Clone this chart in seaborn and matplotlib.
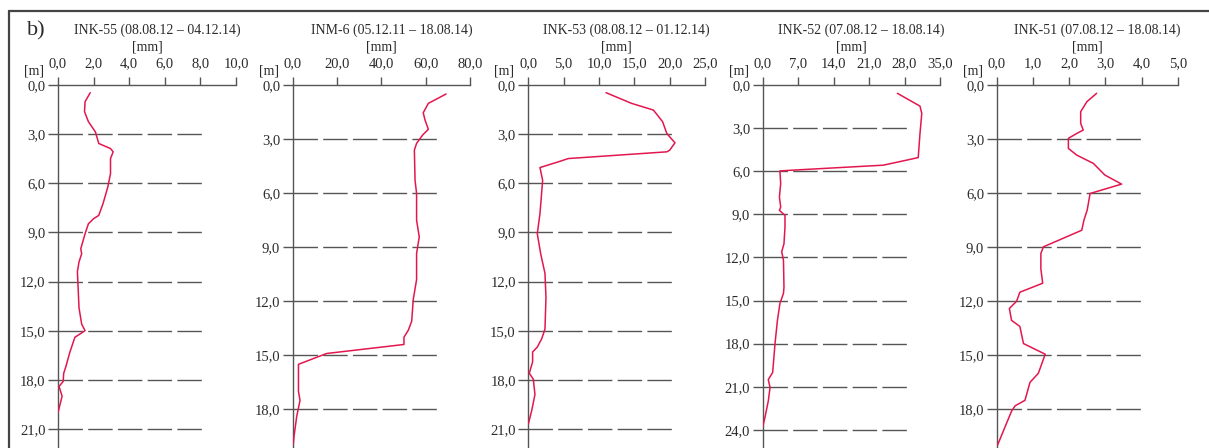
import numpy as np
import pandas as pd
import matplotlib
matplotlib.use("Agg")
import matplotlib.pyplot as plt
from matplotlib.ticker import FuncFormatter, FixedLocator
from matplotlib.lines import Line2D
import seaborn as sns

sns.set_style("white")
plt.rcParams['font.family'] = ['Liberation Serif', 'DejaVu Serif']

# ---------------- data ----------------
titles = ["INK-55 (08.08.12 – 04.12.14)", "INM-6 (05.12.11 – 18.08.14)",
          "INK-53 (08.08.12 – 01.12.14)", "INK-52 (07.08.12 – 18.08.14)",
          "INK-51 (07.08.12 – 18.08.14)"]

x_max = [10, 80, 25, 35, 5]
x_ticks = [[0, 2, 4, 6, 8, 10], [0, 20, 40, 60, 80], [0, 5, 10, 15, 20, 25],
           [0, 7, 14, 21, 28, 35], [0, 1, 2, 3, 4, 5]]
y_ticks = [[0, 3, 6, 9, 12, 15, 18, 21], [0, 3, 6, 9, 12, 15, 18],
           [0, 3, 6, 9, 12, 15, 18, 21], [0, 3, 6, 9, 12, 15, 18, 21, 24],
           [0, 3, 6, 9, 12, 15, 18]]

ink55_depth = [0.47, 1.02, 1.63, 2.24, 2.86, 3.57, 3.88, 4.08, 4.49, 5.41, 6.22, 7.24, 7.96, 8.16,
               8.47, 9.08, 10.0, 10.3, 10.8, 11.4, 13.6, 14.6, 15.0, 15.4, 16.3, 17.2, 17.6, 18.1,
               18.4, 19.0, 20.0]
ink55_mm = [1.81, 1.52, 1.49, 1.71, 2.10, 2.29, 2.95, 3.10, 2.95, 2.95, 2.80, 2.53, 2.29, 2.00,
            1.71, 1.52, 1.28, 1.33, 1.18, 1.09, 1.18, 1.33, 1.52, 0.95, 0.67, 0.44, 0.32, 0.29,
            0.06, 0.23, 0.0]

inm6_depth = [0.5, 1.02, 1.54, 1.94, 2.46, 2.78, 3.24, 3.61, 5.28, 6.02, 7.5, 8.43, 9.35, 10.8,
              11.9, 13.1, 13.6, 14.0, 14.4, 14.9, 15.5, 17.0, 17.5, 18.4, 19.5, 19.9]
inm6_mm = [69.2, 61.2, 58.9, 59.7, 61.2, 58.6, 55.9, 54.9, 55.2, 55.9, 55.9, 57.1, 55.9, 55.9,
           54.4, 53.7, 52.2, 50.2, 50.2, 15.3, 2.6, 2.6, 3.3, 1.8, 0.6, 0.3]

ink53_depth = [0.47, 1.12, 1.53, 2.24, 2.96, 3.16, 3.53, 3.98, 4.08, 4.49, 4.69, 5.04, 5.82, 7.86,
               9.08, 10.3, 11.5, 12.96, 14.9, 15.5, 16.0, 16.3, 16.9, 17.6, 17.96, 18.9, 19.9, 20.7]
ink53_mm = [11.0, 14.6, 17.7, 19.0, 19.6, 20.0, 20.75, 20.0, 19.6, 5.66, 4.25, 1.65, 2.03, 1.65,
            1.27, 1.75, 2.36, 2.5, 2.36, 1.89, 1.27, 0.61, 0.61, 0.14, 0.71, 0.94, 0.47, 0.0]

ink52_depth = [0.58, 1.47, 1.98, 3.37, 5.05, 5.23, 5.58, 5.93, 5.98, 6.86, 7.79, 8.49, 8.72, 9.07,
               9.88, 11.05, 11.6, 12.2, 14.07, 14.5, 15.2, 16.4, 18.0, 20.0, 20.5, 21.05, 22.0,
               23.1, 23.8]
ink52_mm = [26.6, 31.05, 31.4, 31.05, 30.7, 28.4, 23.8, 5.7, 3.4, 3.55, 3.3, 3.55, 3.3, 4.4,
            4.4, 4.2, 3.75, 4.1, 4.2, 4.1, 3.4, 2.9, 2.43, 1.97, 1.1, 1.45, 1.1, 0.46, 0.0]

ink51_depth = [0.46, 0.93, 1.48, 2.13, 2.5, 2.69, 2.96, 3.52, 3.89, 4.35, 5.0, 5.5, 6.02, 6.94,
               7.5, 8.06, 8.98, 9.35, 10.2, 11.0, 11.5, 12.0, 12.4, 13.06, 13.4, 14.35, 14.94,
               16.0, 16.5, 17.5, 17.8, 18.1, 20.0]
ink51_mm = [2.76, 2.49, 2.32, 2.32, 2.39, 2.21, 1.98, 1.98, 2.21, 2.67, 2.99, 3.45, 2.58, 2.5,
            2.41, 2.35, 1.29, 1.22, 1.22, 1.27, 0.64, 0.55, 0.35, 0.41, 0.64, 0.74, 1.34,
            1.15, 0.92, 0.78, 0.51, 0.41, 0.02]

series = [(ink55_mm, ink55_depth), (inm6_mm, inm6_depth), (ink53_mm, ink53_depth),
          (ink52_mm, ink52_depth), (ink51_mm, ink51_depth)]

# ---------------- layout (pixels) ----------------
W, H = 1209, 448
ax_left = [58, 292.7, 528.3, 762.7, 996.7]
ax_width = [178, 177.3, 176.7, 177.3, 181]
ax_top = 85
px_per_m = [16.38, 18.02, 16.38, 14.37, 18.02]

line_color = "#e3174f"
grid_color = "#555555"
text_color = "#2b2b2b"

fig = plt.figure(figsize=(W / 100, H / 100), dpi=100)

fmt = FuncFormatter(lambda v, p: f"{v:.1f}".replace(".", ","))

for i in range(5):
    l = ax_left[i] / W
    w = ax_width[i] / W
    h = (H - ax_top) / H
    ax = fig.add_axes([l, 0, w, h])
    mm, dep = series[i]
    df = pd.DataFrame({"mm": mm, "depth": dep})
    sns.lineplot(data=df, x="mm", y="depth", sort=False, estimator=None,
                 color=line_color, lw=1.1, ax=ax, zorder=5)
    ymax = (H - ax_top) / px_per_m[i]
    ax.set_xlim(0, x_max[i])
    ax.set_ylim(ymax, 0)
    ax.set_xlabel("")
    ax.set_ylabel("")
    ax.xaxis.set_major_locator(FixedLocator(x_ticks[i]))
    ax.yaxis.set_major_locator(FixedLocator(y_ticks[i]))
    ax.xaxis.set_major_formatter(fmt)
    ax.yaxis.set_major_formatter(fmt)
    ax.xaxis.tick_top()
    ax.tick_params(axis="x", direction="out", length=5.5, width=1.0, pad=5,
                   colors=grid_color, labelcolor=text_color, labelsize=10.5)
    ax.tick_params(axis="y", direction="out", length=7, width=1.0, pad=2,
                   colors=grid_color, labelcolor=text_color, labelsize=10.5, left=True)
    for s in ["right", "bottom"]:
        ax.spines[s].set_visible(False)
    for s in ["top", "left"]:
        ax.spines[s].set_color(grid_color)
        ax.spines[s].set_linewidth(1.0)
    ax.patch.set_alpha(0)
    # dashed depth gridlines
    for yv in y_ticks[i][1:]:
        ax.axhline(yv, xmin=0, xmax=144 / ax_width[i], color=grid_color, lw=1.0,
                   linestyle=(0, (17.6, 3.8)), zorder=1)
    # labels
    cx = ax_left[i] + ax_width[i] / 2
    fig.text((cx + 10) / W, 1 - 30 / H, titles[i], ha="center", va="center",
             fontsize=10, color=text_color)
    fig.text(cx / W, 1 - 47 / H, "[mm]", ha="center", va="center",
             fontsize=10, color=text_color)
    fig.text((ax_left[i] - 24) / W, 1 - 71 / H, "[m]", ha="center", va="center",
             fontsize=10, color=text_color)

# frame and panel letter
fig.add_artist(Line2D([9 / W, 1], [1 - 11 / H, 1 - 11 / H], color="#444444", lw=1.6,
                      transform=fig.transFigure))
fig.add_artist(Line2D([9 / W, 9 / W], [0, 1 - 11 / H], color="#444444", lw=1.6,
                      transform=fig.transFigure))
fig.text(27 / W, 1 - 31 / H, "b)", ha="left", va="center", fontsize=16, color=text_color)

fig.savefig("out.png", dpi=100)
